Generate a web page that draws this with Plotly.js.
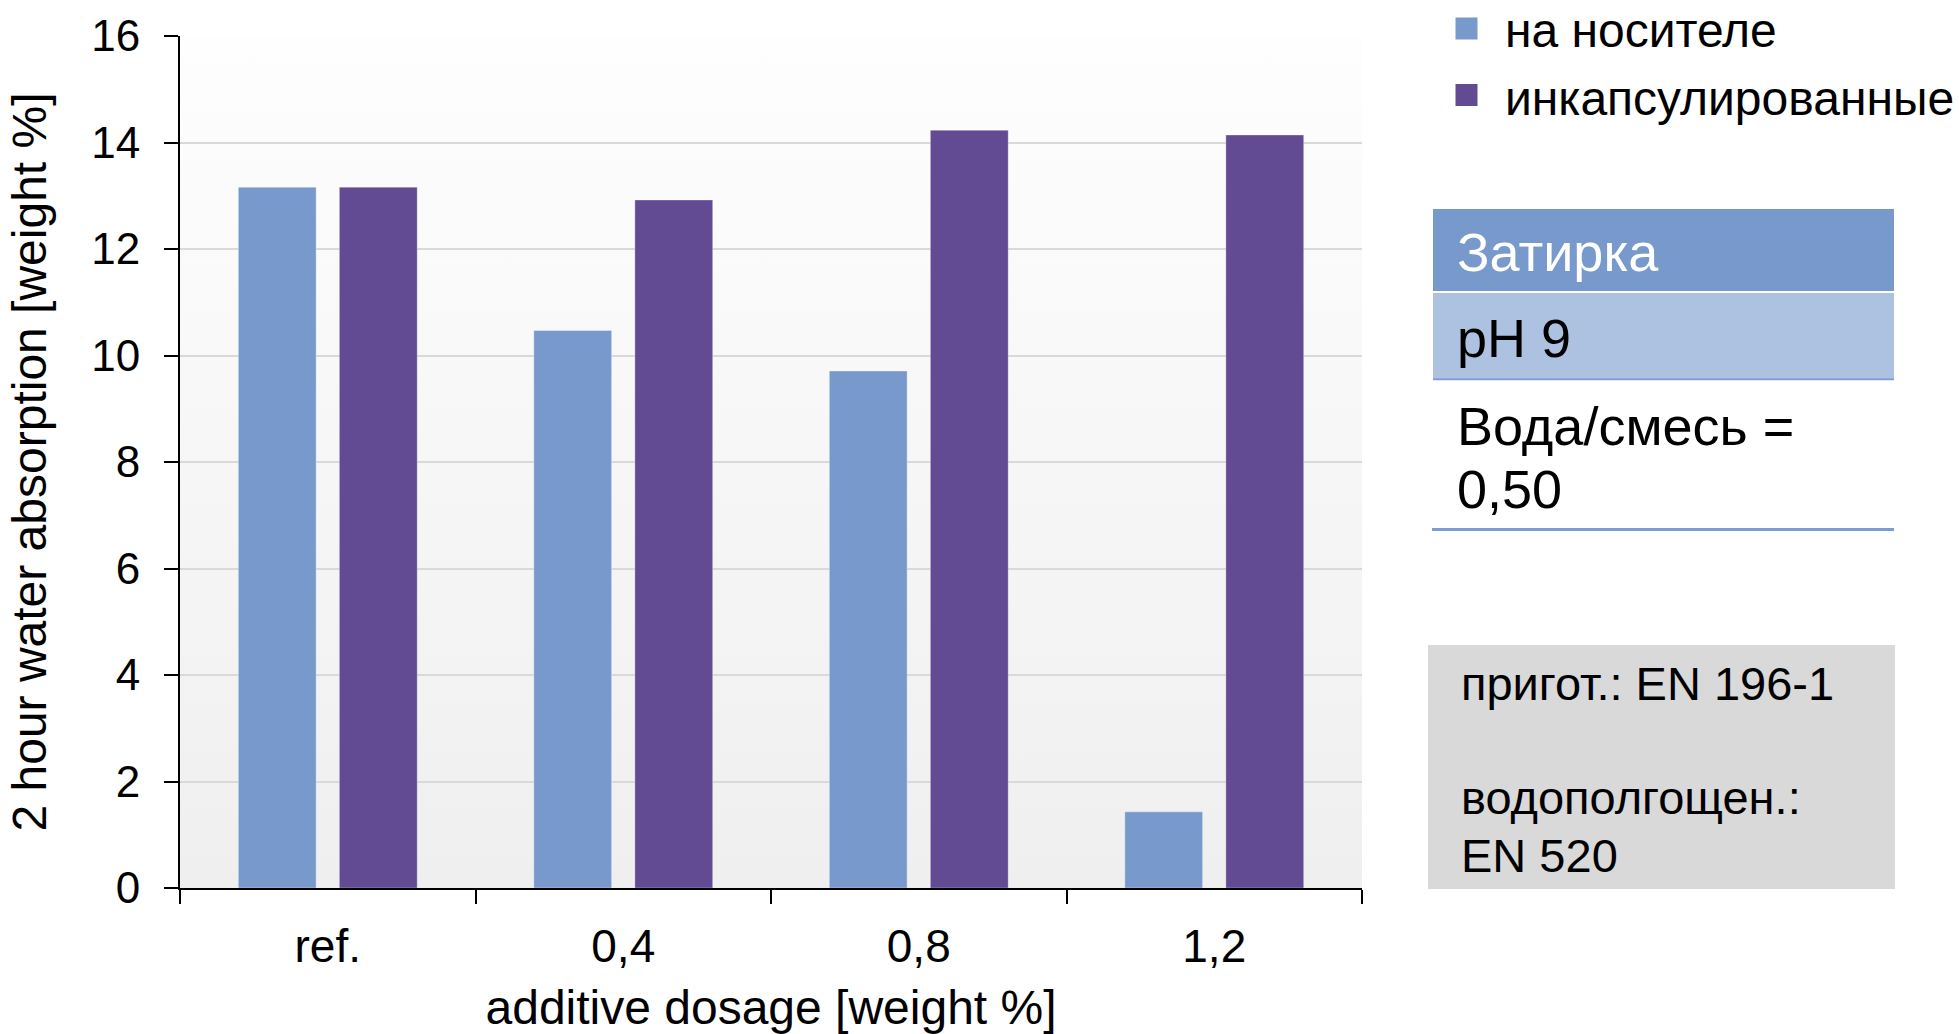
<!DOCTYPE html>
<html>
<head>
<meta charset="utf-8">
<script src="https://cdn.plot.ly/plotly-3.0.1.min.js"></script>
<style>
  html, body { margin: 0; padding: 0; background: #ffffff; }
  #chart { width: 1959px; height: 1034px; }
</style>
</head>
<body>
<div id="chart"></div>
<script>
// Categories (additive dosage) and the two series of 2-hour water absorption
const categories = ['ref.', '0,4', '0,8', '1,2'];
const seriesNames = ['на носителе', 'инкапсулированные'];
const carrierValues = [13.16, 10.47, 9.71, 1.43];
const encapsulatedValues = [13.16, 12.92, 14.23, 14.14];
const seriesColors = ['#7899CC', '#634B93'];

const yTickValues = [0, 2, 4, 6, 8, 10, 12, 14, 16];

// Side panel texts
const panelHeader = 'Затирка';
const panelRow = 'pH 9';
const panelRatioLines = ['Вода/смесь =', '0,50'];
const panelNoteLines = ['пригот.: EN 196-1', 'водополгощен.:', 'EN 520'];

const FONT = 'Liberation Sans, Arial, Helvetica, sans-serif';

// Plot-area frame in page pixels, used to place the side panel in paper units
const W = 1959, H = 1034;
const L = 180, R = 1362, T = 36, B = 888;
const px = x => (x - L) / (R - L);
const py = y => (B - y) / (B - T);

const traces = [
  {
    type: 'bar', name: seriesNames[0], x: categories, y: carrierValues,
    marker: { color: seriesColors[0], line: { color: 'rgba(255,255,255,0.35)', width: 1 } },
    hoverinfo: 'x+y+name'
  },
  {
    type: 'bar', name: seriesNames[1], x: categories, y: encapsulatedValues,
    marker: { color: seriesColors[1], line: { color: 'rgba(255,255,255,0.3)', width: 1 } },
    hoverinfo: 'x+y+name'
  }
];

// Soft vertical gradient behind the plot area
const gradientSvg =
  "<svg xmlns='http://www.w3.org/2000/svg' width='10' height='100' preserveAspectRatio='none'>" +
  "<defs><linearGradient id='g' x1='0' y1='0' x2='0' y2='1'>" +
  "<stop offset='0' stop-color='#fefefe'/><stop offset='1' stop-color='#efefef'/>" +
  "</linearGradient></defs><rect width='10' height='100' fill='url(#g)'/></svg>";

const shapes = [];
const annotations = [];

// Legend: coloured squares with series names
const legendRows = [28.5, 95];
const legendTextMid = [30.6, 98];
seriesNames.forEach((name, i) => {
  shapes.push({
    type: 'rect', xref: 'paper', yref: 'paper',
    x0: px(1455.5), x1: px(1477.5), y0: py(legendRows[i] - 11), y1: py(legendRows[i] + 11),
    fillcolor: seriesColors[i], line: { width: 0 }
  });
  annotations.push({
    xref: 'paper', yref: 'paper', x: px(1503), y: py(legendTextMid[i]),
    xanchor: 'left', yanchor: 'middle', showarrow: false, text: name,
    font: { family: FONT, size: 48, color: '#000000' }
  });
});

// Side table: header row, pH row, water/mix ratio, test standards box
shapes.push(
  { type: 'rect', xref: 'paper', yref: 'paper', x0: px(1433), x1: px(1894), y0: py(291), y1: py(209),
    fillcolor: '#7899CC', line: { width: 0 } },
  { type: 'rect', xref: 'paper', yref: 'paper', x0: px(1433), x1: px(1894), y0: py(378.5), y1: py(293),
    fillcolor: '#ADC2E1', line: { width: 0 } },
  { type: 'line', xref: 'paper', yref: 'paper', x0: px(1433), x1: px(1894), y0: py(379.3), y1: py(379.3),
    line: { color: '#7C9CD3', width: 2 } },
  { type: 'line', xref: 'paper', yref: 'paper', x0: px(1432), x1: px(1894), y0: py(529.5), y1: py(529.5),
    line: { color: '#7C9CD3', width: 3 } },
  { type: 'rect', xref: 'paper', yref: 'paper', x0: px(1428), x1: px(1895), y0: py(889), y1: py(645),
    fillcolor: '#D9D9D9', line: { width: 0 } }
);

annotations.push(
  { xref: 'paper', yref: 'paper', x: px(1454.5), y: py(252), xanchor: 'left', yanchor: 'middle',
    showarrow: false, text: panelHeader, font: { family: FONT, size: 54, color: '#ffffff' } },
  { xref: 'paper', yref: 'paper', x: px(1454.5), y: py(337.5), xanchor: 'left', yanchor: 'middle',
    showarrow: false, text: panelRow, font: { family: FONT, size: 54, color: '#000000' } },
  { xref: 'paper', yref: 'paper', x: px(1454.5), y: py(425.7), xanchor: 'left', yanchor: 'middle',
    showarrow: false, text: panelRatioLines[0], font: { family: FONT, size: 54, color: '#000000' } },
  { xref: 'paper', yref: 'paper', x: px(1454.5), y: py(489.3), xanchor: 'left', yanchor: 'middle',
    showarrow: false, text: panelRatioLines[1], font: { family: FONT, size: 54, color: '#000000' } }
);

// Standards box: first line, a blank line, then two lines
const noteMids = [683.5, 797.5, 855.7];
panelNoteLines.forEach((line, i) => {
  annotations.push({
    xref: 'paper', yref: 'paper', x: px(1459), y: py(noteMids[i]), xanchor: 'left', yanchor: 'middle',
    showarrow: false, text: line, font: { family: FONT, size: 47, color: '#000000' }
  });
});

const layout = {
  width: W, height: H,
  margin: { l: L, r: W - R, t: T, b: H - B, pad: 0 },
  paper_bgcolor: '#ffffff',
  plot_bgcolor: 'rgba(0,0,0,0)',
  font: { family: FONT, color: '#000000' },
  showlegend: false,
  barmode: 'group',
  bargap: 0.316,
  bargroupgap: 0.23,
  xaxis: {
    type: 'category',
    tickson: 'boundaries',
    ticks: 'outside', ticklen: 14, tickwidth: 2, tickcolor: '#000000',
    showline: true, linecolor: '#000000', linewidth: 2,
    showgrid: false, zeroline: false,
    tickfont: { family: FONT, size: 46, color: '#000000' },
    ticklabelstandoff: 17,
    title: { text: 'additive dosage [weight %]', font: { family: FONT, size: 48, color: '#000000' }, standoff: 20 },
    automargin: false
  },
  yaxis: {
    range: [0, 16],
    tickvals: yTickValues,
    ticktext: yTickValues.map(String),
    ticks: 'outside', ticklen: 14, tickwidth: 2, tickcolor: '#000000',
    showline: true, linecolor: '#000000', linewidth: 2,
    showgrid: true, gridcolor: '#D9D9D9', gridwidth: 2,
    zeroline: false,
    tickfont: { family: FONT, size: 44, color: '#000000' },
    ticklabelstandoff: 15,
    title: { text: '2 hour water absorption [weight %]', font: { family: FONT, size: 48, color: '#000000' }, standoff: 29 },
    automargin: false
  },
  images: [{
    source: 'data:image/svg+xml;charset=utf-8,' + encodeURIComponent(gradientSvg),
    xref: 'paper', yref: 'paper', x: 0, y: 1, sizex: 1, sizey: 1,
    xanchor: 'left', yanchor: 'top', sizing: 'stretch', layer: 'below'
  }],
  shapes: shapes,
  annotations: annotations
};

Plotly.newPlot('chart', traces, layout, { displayModeBar: false, responsive: false });
</script>
</body>
</html>
